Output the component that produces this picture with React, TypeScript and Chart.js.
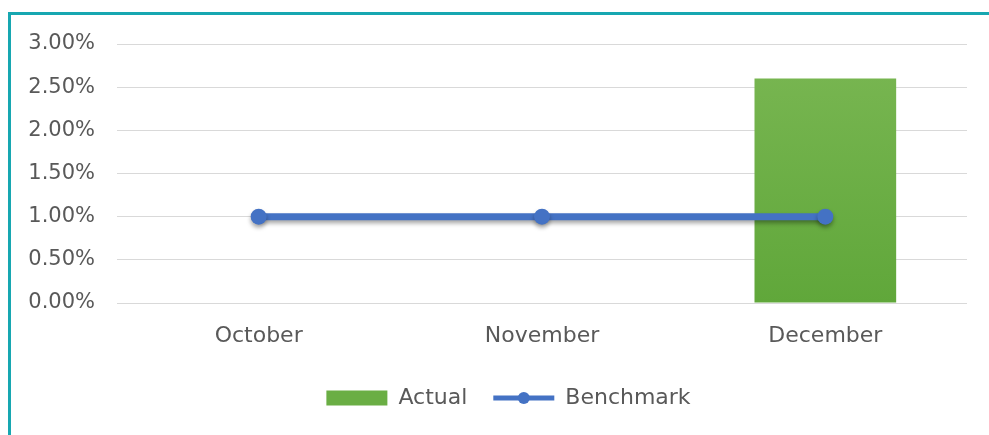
import React, { useEffect, useRef } from 'react';
import { Chart, registerables } from 'chart.js';

Chart.register(...registerables);

const categories = ['October', 'November', 'December'];
const actualValues: (number | null)[] = [null, null, 2.6];
const benchmarkValues = [1.0, 1.0, 1.0];
const yMin = 0;
const yMax = 3;
const yStep = 0.5;

const FONT = 'DejaVu Sans';
const TEXT = '#595959';
const BLUE = '#4472c4';

const shadowPlugin = {
  id: 'lineShadow',
  beforeDatasetDraw(chart: any, args: any) {
    if (chart.data.datasets[args.index].type === 'line') {
      const ctx = chart.ctx;
      ctx.save();
      ctx.shadowColor = 'rgba(0,0,0,0.35)';
      ctx.shadowBlur = 4;
      ctx.shadowOffsetY = 3;
    }
  },
  afterDatasetDraw(chart: any, args: any) {
    if (chart.data.datasets[args.index].type === 'line') {
      chart.ctx.restore();
    }
  },
};

const legendShiftPlugin = {
  id: 'legendShift',
  afterLayout(chart: any) {
    if (chart.legend) {
      chart.legend.left += 50;
    }
  },
};

const legendLinePlugin = {
  id: 'legendLine',
  afterDraw(chart: any) {
    const legend = chart.legend;
    if (!legend || !legend.legendHitBoxes) return;
    const hb = legend.legendHitBoxes[1];
    if (!hb) return;
    const boxW = legend.options.labels.boxWidth;
    const ctx = chart.ctx;
    const cy = hb.top + hb.height / 2;
    ctx.save();
    ctx.strokeStyle = BLUE;
    ctx.lineWidth = 5;
    ctx.beginPath();
    ctx.moveTo(hb.left, cy);
    ctx.lineTo(hb.left + boxW, cy);
    ctx.stroke();
    ctx.fillStyle = BLUE;
    ctx.beginPath();
    ctx.arc(hb.left + boxW / 2, cy, 6, 0, Math.PI * 2);
    ctx.fill();
    ctx.restore();
  },
};

export default function App() {
  const ref = useRef<HTMLCanvasElement>(null);

  useEffect(() => {
    document.body.style.margin = '0';
    const canvas = ref.current!;
    const chart = new Chart(canvas, {
      type: 'bar',
      data: {
        labels: categories,
        datasets: [
          {
            type: 'bar',
            label: 'Actual',
            data: actualValues,
            order: 2,
            backgroundColor: (c: any) => {
              const area = c.chart.chartArea;
              if (!area) return '#6aae44';
              const g = c.chart.ctx.createLinearGradient(0, area.top, 0, area.bottom);
              g.addColorStop(0, '#7ab753');
              g.addColorStop(1, '#60a73a');
              return g;
            },
            borderWidth: 0,
            categoryPercentage: 1,
            barPercentage: 0.5,
          } as any,
          {
            type: 'line',
            label: 'Benchmark',
            data: benchmarkValues,
            order: 1,
            borderColor: BLUE,
            backgroundColor: BLUE,
            borderWidth: 7,
            pointRadius: 8,
            pointBackgroundColor: BLUE,
            pointBorderWidth: 0,
            fill: false,
          } as any,
        ],
      },
      options: {
        animation: false,
        responsive: false,
        maintainAspectRatio: false,
        layout: { padding: { top: 44, right: 22, left: 0, bottom: 16 } },
        plugins: {
          tooltip: { enabled: false },
          legend: {
            position: 'bottom',
            labels: {
              font: { family: FONT, size: 22 },
              color: TEXT,
              boxWidth: 61,
              boxHeight: 15,
              padding: 26,
              generateLabels: () => [
                {
                  text: 'Actual',
                  fillStyle: '#6aae44',
                  strokeStyle: '#6aae44',
                  lineWidth: 0,
                  datasetIndex: 0,
                  fontColor: TEXT,
                },
                {
                  text: 'Benchmark',
                  fillStyle: 'rgba(0,0,0,0)',
                  strokeStyle: 'rgba(0,0,0,0)',
                  lineWidth: 0,
                  datasetIndex: 1,
                  fontColor: TEXT,
                },
              ],
            },
          },
        },
        scales: {
          x: {
            grid: { display: false, drawTicks: false },
            border: { display: false },
            ticks: { font: { family: FONT, size: 22 }, color: TEXT, padding: 20 },
            afterFit: (s: any) => {
              s.height = 58;
            },
          },
          y: {
            min: yMin,
            max: yMax,
            grid: { color: '#d9d9d9', lineWidth: 1, drawTicks: false },
            border: { display: false },
            ticks: {
              stepSize: yStep,
              font: { family: FONT, size: 21 },
              color: TEXT,
              padding: 22,
              callback: (v: any) => Number(v).toFixed(2) + '%',
            },
            afterFit: (s: any) => {
              s.width = 117;
            },
          },
        },
      } as any,
      plugins: [shadowPlugin, legendShiftPlugin, legendLinePlugin],
    });
    return () => chart.destroy();
  }, []);

  return (
    <div style={{ position: 'fixed', left: 0, top: 0, width: 989, height: 435, background: '#fff' }}>
      <div
        style={{
          position: 'absolute',
          left: 8,
          top: 12,
          width: 981,
          height: 423,
          borderTop: '3px solid #17a7b1',
          borderLeft: '3px solid #17a7b1',
          boxSizing: 'border-box',
        }}
      />
      <canvas
        ref={ref}
        width={989}
        height={435}
        style={{ position: 'absolute', left: 0, top: 0, width: 989, height: 435 }}
      />
    </div>
  );
}
